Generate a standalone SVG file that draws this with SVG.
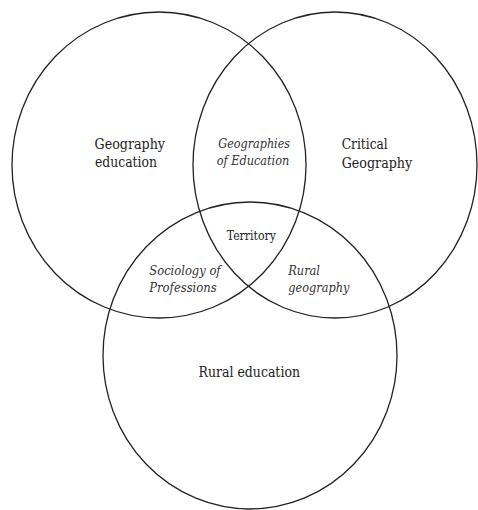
<svg xmlns="http://www.w3.org/2000/svg" width="478" height="510" viewBox="0 0 478 510">
<style>
.c{fill:none;stroke:#222;stroke-width:1.3}
text{font-family:'DejaVu Serif','Liberation Serif',serif;fill:#222}
.t{font-size:14.5px}
.i{font-size:12.5px;font-style:italic;fill:#333}
.s{font-size:12.5px}
</style>
<rect width="478" height="510" fill="#fff"/>
<g id="geography-education">
<ellipse class="c" cx="159" cy="165" rx="147" ry="153"/>
<text class="t" x="94.5" y="149" textLength="70.5" lengthAdjust="spacingAndGlyphs">Geography</text>
<text class="t" x="95" y="167" textLength="62" lengthAdjust="spacingAndGlyphs">education</text>
</g>
<g id="critical-geography">
<ellipse class="c" cx="335" cy="165" rx="142" ry="153"/>
<text class="t" x="341.7" y="149" textLength="46" lengthAdjust="spacingAndGlyphs">Critical</text>
<text class="t" x="341.7" y="168" textLength="70.5" lengthAdjust="spacingAndGlyphs">Geography</text>
</g>
<g id="rural-education">
<ellipse class="c" cx="250" cy="355.5" rx="147" ry="153.5"/>
<text class="t" x="198.5" y="377" textLength="101.5" lengthAdjust="spacingAndGlyphs">Rural education</text>
</g>
<g id="geographies-of-education">
<text class="i" x="218.3" y="147.5" textLength="71.7" lengthAdjust="spacingAndGlyphs">Geographies</text>
<text class="i" x="216.7" y="165" textLength="72.6" lengthAdjust="spacingAndGlyphs">of Education</text>
</g>
<g id="territory">
<text class="s" x="226.7" y="240" textLength="49.3" lengthAdjust="spacingAndGlyphs">Territory</text>
</g>
<g id="sociology-of-professions">
<text class="i" x="149.3" y="275" textLength="71.3" lengthAdjust="spacingAndGlyphs">Sociology of</text>
<text class="i" x="149.3" y="292" textLength="67.4" lengthAdjust="spacingAndGlyphs">Professions</text>
</g>
<g id="rural-geography">
<text class="i" x="288.3" y="275" textLength="31.7" lengthAdjust="spacingAndGlyphs">Rural</text>
<text class="i" x="288.3" y="292" textLength="61" lengthAdjust="spacingAndGlyphs">geography</text>
</g>
<g id="connectors"></g>
</svg>
